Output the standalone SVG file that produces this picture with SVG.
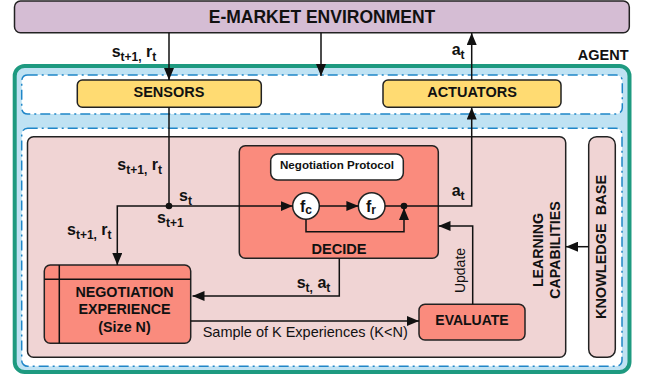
<svg xmlns="http://www.w3.org/2000/svg" width="646" height="379" viewBox="0 0 646 379">
<defs>
<style>
.b{font-family:"Liberation Sans",Arial,sans-serif;font-weight:bold;fill:#111}
.r{font-family:"Liberation Sans",Arial,sans-serif;fill:#111}
.box{stroke:#222;stroke-width:1.5}
.dash{fill:#fff;stroke:#1f86c8;stroke-width:1.5;stroke-dasharray:10 4 2 4}
.ln{fill:none;stroke:#111;stroke-width:1.5}
.arr{fill:none;stroke:#111;stroke-width:1.5;marker-end:url(#ah)}
.sal{fill:#fa8b7d}
.pink{fill:#f0d4d4}
.yel{fill:#ffdb72}
</style>
<marker id="ah" viewBox="0 0 12 10" refX="12" refY="5" markerWidth="12" markerHeight="10" markerUnits="userSpaceOnUse" orient="auto">
<path d="M0,0 L12,5 L0,10 Z" fill="#111"/>
</marker>
</defs>

<g id="environment">
<rect class="box" x="14.5" y="1" width="614.8" height="31.7" rx="6" fill="#d5bdd4"/>
<text class="b" x="322" y="22.5" font-size="17.5" text-anchor="middle">E-MARKET ENVIRONMENT</text>
</g>

<g id="agent">
<rect x="14.7" y="66" width="614.8" height="306" rx="10" fill="#bfe2f3" stroke="#1e9a80" stroke-width="4"/>
<text class="b" x="628.5" y="60" font-size="14.5" text-anchor="end">AGENT</text>
<rect class="dash" x="21.7" y="75" width="600.6" height="39" rx="6"/>
<rect class="dash" x="21.7" y="128.3" width="600.3" height="238" rx="6"/>
</g>

<g id="sensors">
<rect class="box yel" x="77.3" y="80" width="184" height="27.3" rx="5"/>
<text class="b" x="169" y="96.8" font-size="14.5" text-anchor="middle">SENSORS</text>
</g>

<g id="actuators">
<rect class="box yel" x="383" y="80" width="178" height="27.3" rx="5"/>
<text class="b" x="472" y="96.8" font-size="14.5" text-anchor="middle">ACTUATORS</text>
</g>

<g id="learning-capabilities">
<rect class="box pink" x="27.5" y="136.7" width="538.2" height="220.6" rx="6"/>
<text class="b" font-size="14.2" text-anchor="middle" transform="translate(537.5,250) rotate(-90)" y="5">LEARNING</text>
<text class="b" font-size="14.2" text-anchor="middle" transform="translate(555,250) rotate(-90)" y="5">CAPABILITIES</text>
</g>

<g id="knowledge-base">
<rect class="box pink" x="588.7" y="136.7" width="26.6" height="220.6" rx="8"/>
<text class="b" font-size="14.5" text-anchor="middle" transform="translate(600.5,247) rotate(-90)" y="5">KNOWLEDGE&#160; BASE</text>
</g>

<g id="decide">
<rect class="box sal" x="239.3" y="145.7" width="199" height="112.6" rx="6"/>
<text class="b" x="339" y="253.5" font-size="14.6" text-anchor="middle">DECIDE</text>
</g>

<g id="negotiation-protocol">
<rect class="box" x="270.7" y="154" width="132.6" height="26" rx="7" fill="#fff"/>
<text class="b" x="337" y="169.2" font-size="11.6" text-anchor="middle">Negotiation Protocol</text>
</g>

<g id="fc">
<circle class="box" cx="306" cy="206" r="13.3" fill="#fff"/>
<text class="b" x="300" y="211.7" font-size="16">f<tspan font-size="12" dy="2.5">c</tspan></text>
</g>

<g id="fr">
<circle class="box" cx="371.7" cy="206" r="13.3" fill="#fff"/>
<text class="b" x="366" y="211.7" font-size="16">f<tspan font-size="12" dy="2.5">r</tspan></text>
</g>

<g id="negotiation-experience">
<rect class="box sal" x="44.3" y="265" width="146.4" height="78.3" rx="6"/>
<path class="ln" d="M59.3,265 V343.3 M44.3,279.3 H190.7"/>
<text class="b" font-size="14.3" text-anchor="middle"><tspan x="124.5" y="296.5">NEGOTIATION</tspan><tspan x="124.5" y="314.3">EXPERIENCE</tspan><tspan x="124.5" y="332.3">(Size N)</tspan></text>
</g>

<g id="evaluate">
<rect class="box sal" x="419" y="304.3" width="106" height="35.7" rx="6"/>
<text class="b" x="472" y="325" font-size="14" text-anchor="middle">EVALUATE</text>
</g>

<g id="connectors">
<path class="arr" d="M169,32.7 V80"/>
<path class="arr" d="M321,32.7 V76"/>
<path class="arr" d="M471.7,80 V33"/>
<path class="ln" d="M169,107.3 V206"/>
<path class="arr" d="M169,206 H292.7"/>
<path class="arr" d="M169,206 H117.3 V265"/>
<circle cx="169" cy="206" r="3.3" fill="#111"/>
<path class="arr" d="M319.3,206 H358.4"/>
<path class="ln" d="M385,206 H404"/>
<path class="arr" d="M404,206 H471.7 V107.5"/>
<path class="arr" d="M306,219.3 V231.7 H404 V208"/>
<circle cx="404" cy="206" r="3.3" fill="#111"/>
<path class="arr" d="M339.3,258.3 V296 H192.5"/>
<path class="arr" d="M190.7,321 H419"/>
<path class="arr" d="M472.7,304.3 V226 H438.5"/>
<path class="arr" d="M588.7,246.7 H566"/>
</g>

<g id="labels">
<text class="b" x="111.7" y="56.7" font-size="16">s<tspan font-size="12" dy="4">t+1,</tspan><tspan dy="-4"> r</tspan><tspan font-size="12" dy="4">t</tspan></text>
<text class="b" x="451.7" y="55" font-size="16">a<tspan font-size="12" dy="4">t</tspan></text>
<text class="b" x="117.3" y="170" font-size="16">s<tspan font-size="12" dy="4">t+1,</tspan><tspan dy="-4"> r</tspan><tspan font-size="12" dy="4">t</tspan></text>
<text class="b" x="179" y="201" font-size="16">s<tspan font-size="12" dy="4">t</tspan></text>
<text class="b" x="157" y="222.7" font-size="16">s<tspan font-size="12" dy="4">t+1</tspan></text>
<text class="b" x="67" y="235" font-size="16">s<tspan font-size="12" dy="4">t+1,</tspan><tspan dy="-4"> r</tspan><tspan font-size="12" dy="4">t</tspan></text>
<text class="b" x="451.7" y="196" font-size="16">a<tspan font-size="12" dy="4">t</tspan></text>
<text class="b" x="296.7" y="288.3" font-size="16">s<tspan font-size="12" dy="4">t,</tspan><tspan dy="-4"> a</tspan><tspan font-size="12" dy="4">t</tspan></text>
<text class="r" x="202.7" y="337.3" font-size="14.5">Sample of K Experiences (K&lt;N)</text>
<text class="r" font-size="14" text-anchor="middle" transform="translate(460,270.5) rotate(-90)" y="5">Update</text>
</g>
</svg>
